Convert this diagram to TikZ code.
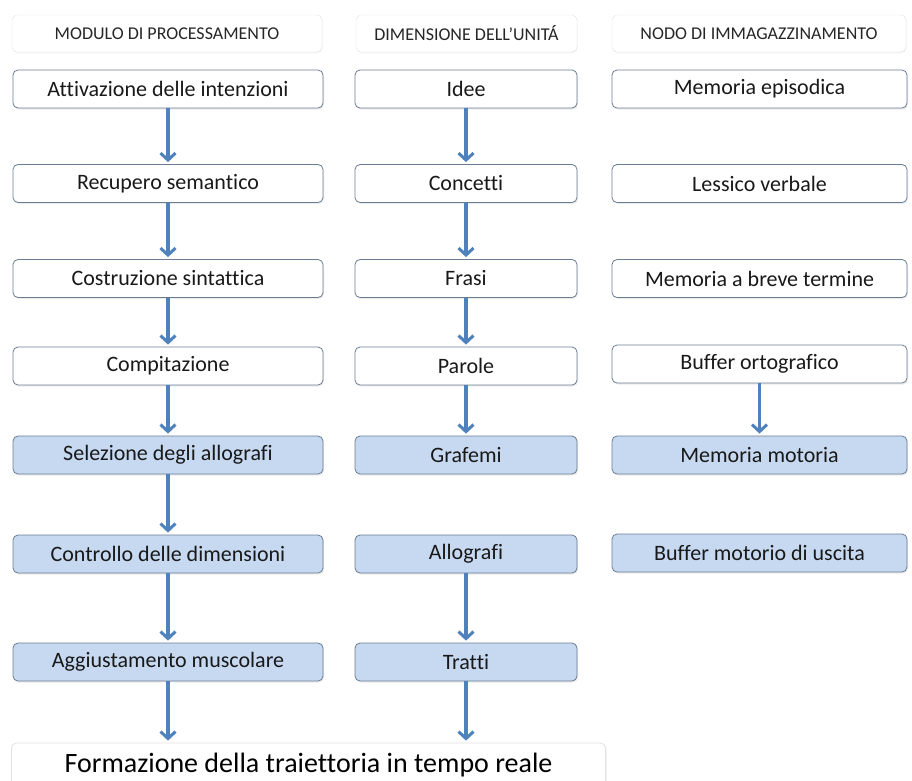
\documentclass[tikz,border=0pt]{standalone}
\usepackage{fontspec}
\setmainfont{Carlito}[Ligatures=NoCommon]
\usetikzlibrary{arrows.meta,shadows}
\definecolor{arrowblue}{HTML}{4F81BD}
\definecolor{boxfill}{HTML}{C6D9F1}
\definecolor{boxline}{HTML}{6B7D93}
\definecolor{headline}{HTML}{E2E2E2}
\tikzset{
  hdr/.style={draw=headline, fill=white, rounded corners=5pt, minimum height=37pt,
    inner sep=0pt, font=\fontsize{18}{21}\selectfont, text=black!85,
    drop shadow={shadow xshift=0.5pt, shadow yshift=-1pt, fill=black!8, opacity=0.6}},
  box/.style={draw=boxline, line width=0.8pt, fill=white, rounded corners=5pt,
    minimum height=38pt, inner sep=0pt, font=\fontsize{22}{26}\selectfont, text=black!90,
    drop shadow={shadow xshift=1pt, shadow yshift=-1.5pt, fill=black!15, opacity=0.5}},
  bbox/.style={box, fill=boxfill},
  colL/.style={minimum width=310pt},
  colM/.style={minimum width=222pt},
  colR/.style={minimum width=295pt},
  flow/.style={draw=arrowblue, line width=3.5pt, shorten >=2pt, -{Straight Barb[length=7pt,width=15pt,line width=3pt]}},
}
\begin{document}
\begin{tikzpicture}[x=1pt,y=-1pt]
\useasboundingbox (0,0) rectangle (912,780);
\fill[white] (0,0) rectangle (912,780);
% headers
\node[hdr, minimum width=310pt] (h1) at (167,33.5) {MODULO DI PROCESSAMENTO};
\node[hdr, minimum width=221pt] (h2) at (466.5,33.5) {DIMENSIONE DELL’UNITÁ};
\node[hdr, minimum width=294pt] (h3) at (759,33.5) {NODO DI IMMAGAZZINAMENTO};
% left column
\node[box, colL]  (l1) at (168,89)    {Attivazione delle intenzioni};
\node[box, colL]  (l2) at (168,183.5) {Recupero semantico};
\node[box, colL]  (l3) at (168,278.5) {Costruzione sintattica};
\node[box, colL]  (l4) at (168,366)   {Compitazione};
\node[bbox, colL] (l5) at (168,455)   {Selezione degli allografi};
\node[bbox, colL] (l6) at (168,554)   {Controllo delle dimensioni};
\node[bbox, colL] (l7) at (168,662)   {Aggiustamento muscolare};
% middle column
\node[box, colM]  (m1) at (466,89)    {Idee};
\node[box, colM]  (m2) at (466,183.5) {Concetti};
\node[box, colM]  (m3) at (466,278.5) {Frasi};
\node[box, colM]  (m4) at (466,366)   {Parole};
\node[bbox, colM] (m5) at (466,455)   {Grafemi};
\node[bbox, colM] (m6) at (466,554)   {Allografi};
\node[bbox, colM] (m7) at (466,662)   {Tratti};
% right column
\node[box, colR]  (r1) at (759.5,89)    {Memoria episodica};
\node[box, colR]  (r2) at (759.5,183.5) {Lessico verbale};
\node[box, colR]  (r3) at (759.5,278.5) {Memoria a breve termine};
\node[box, colR]  (r4) at (759.5,364)   {Buffer ortografico};
\node[bbox, colR] (r5) at (759.5,455)   {Memoria motoria};
\node[bbox, colR] (r6) at (759.5,553)   {Buffer motorio di uscita};
% bottom
\node[box, draw=headline, minimum width=594pt, minimum height=44pt,
  font=\fontsize{28}{32}\selectfont, text=black] (fin) at (308.5,765) {Formazione della traiettoria in tempo reale};
% connectors
\draw[flow] (l1) -- (l2);
\draw[flow] (l2) -- (l3);
\draw[flow] (l3) -- (l4);
\draw[flow] (l4) -- (l5);
\draw[flow] (l5) -- (l6);
\draw[flow] (l6) -- (l7);
\draw[flow] (l7.south) -- (l7.south |- fin.north);
\draw[flow] (m1) -- (m2);
\draw[flow] (m2) -- (m3);
\draw[flow] (m3) -- (m4);
\draw[flow] (m4) -- (m5);
\draw[flow] (m6) -- (m7);
\draw[flow] (m7.south) -- (m7.south |- fin.north);
\draw[flow] (r4) -- (r5);
\end{tikzpicture}
\end{document}
